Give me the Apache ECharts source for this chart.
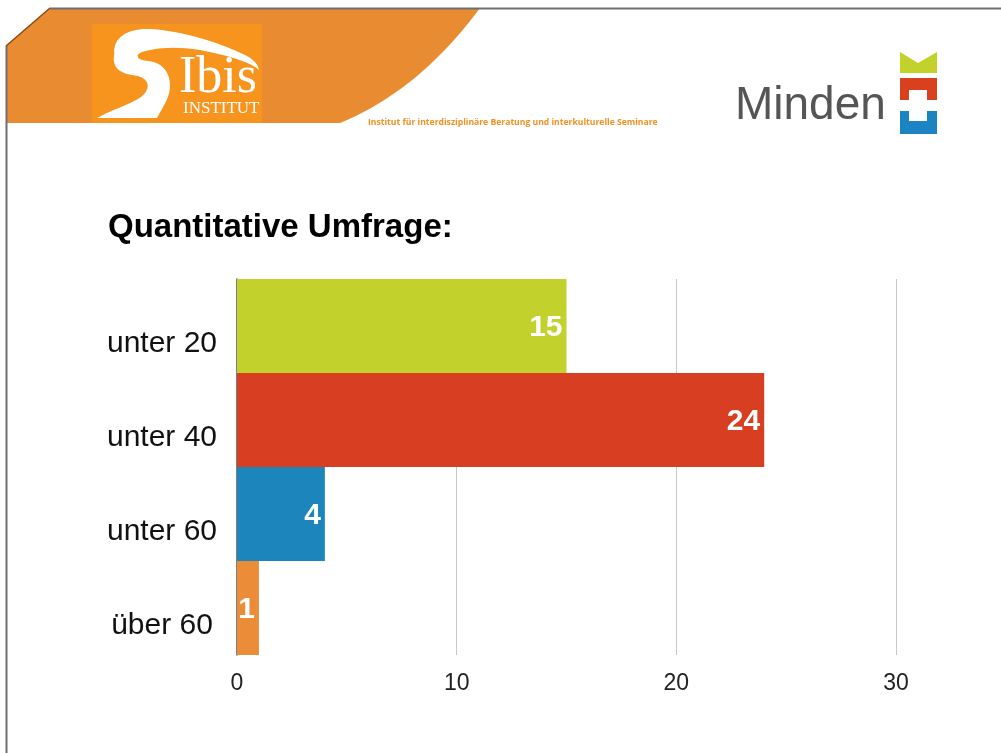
<!DOCTYPE html>
<html>
<head>
<meta charset="utf-8">
<script src="https://cdn.jsdelivr.net/npm/echarts@6/dist/echarts.min.js"></script>
<style>
html,body{margin:0;padding:0;background:#fff;}
#chart{width:1001px;height:753px;}
</style>
</head>
<body>
<div id="chart"></div>
<script>
const categories = ['unter 20', 'unter 40', 'unter 60', 'über 60'];
const values = [15, 24, 4, 1];
const xTicks = [0, 10, 20, 30];
const barColors = ['#C2D12B', '#D83F22', '#1B85BC', '#EB8D38'];

// helper: sample a cubic bezier into points (for decorative shapes only)
function cubic(p0, p1, p2, p3, n) {
  const pts = [];
  for (let i = 0; i <= n; i++) {
    const t = i / n, u = 1 - t;
    pts.push([
      u*u*u*p0[0] + 3*u*u*t*p1[0] + 3*u*t*t*p2[0] + t*t*t*p3[0],
      u*u*u*p0[1] + 3*u*u*t*p1[1] + 3*u*t*t*p2[1] + t*t*t*p3[1]
    ]);
  }
  return pts;
}
function chain(segs) {
  let out = [];
  segs.forEach(s => { out = out.concat(s); });
  return out;
}

const bandPts = chain([
  [[50, 8], [480, 8]],
  cubic([480, 8], [440, 62], [395, 100], [340, 123], 20),
  [[6, 123], [6, 46]]
]);

const headPts = chain([
  cubic([116, 62], [108, 40], [125, 28], [150, 29], 10),
  cubic([150, 29], [175, 30], [215, 40], [245, 55], 10),
  cubic([245, 55], [253, 59], [258, 64], [259, 70], 6),
  cubic([259, 70], [250, 62], [230, 56], [200, 50], 8),
  cubic([200, 50], [180, 47], [165, 47], [150, 50], 8),
  cubic([150, 50], [140, 52], [136, 54], [138, 58], 6)
]);
const neckPts = chain([
  cubic([114, 55], [112, 70], [122, 74], [138, 76], 10),
  cubic([138, 76], [152, 80], [150, 92], [138, 99], 10),
  cubic([138, 99], [125, 106], [112, 110], [97, 118], 10),
  [[157, 118]],
  cubic([157, 118], [162, 108], [170, 98], [170, 86], 10),
  cubic([170, 86], [170, 70], [160, 62], [148, 61], 10),
  cubic([148, 61], [140, 60], [137, 58], [138, 56], 6)
]);

const chart = echarts.init(document.getElementById('chart'), null, {renderer: 'canvas'});

const graphics = [
  {type: 'polygon', z: 1, silent: true, shape: {points: bandPts}, style: {fill: '#E98B30'}},
  {type: 'line', z: 2, silent: true, shape: {x1: 6, y1: 46, x2: 50, y2: 8},
   style: {stroke: '#8A4A14', lineWidth: 1.5}},
  {type: 'line', z: 3, silent: true, shape: {x1: 50, y1: 8.5, x2: 1001, y2: 8.5},
   style: {stroke: '#6E6E6E', lineWidth: 2}},
  {type: 'line', z: 3, silent: true, shape: {x1: 6.5, y1: 46, x2: 6.5, y2: 753},
   style: {stroke: '#6E6E6E', lineWidth: 2}},
  {type: 'rect', z: 4, silent: true, shape: {x: 92, y: 24, width: 170, height: 99},
   style: {fill: '#F7941D'}},
  {type: 'polygon', z: 5, silent: true, shape: {points: headPts}, style: {fill: '#fff'}},
  {type: 'polygon', z: 5, silent: true, shape: {points: neckPts}, style: {fill: '#fff'}},
  {type: 'text', z: 5, silent: true, left: 179, top: 52,
   style: {text: 'Ibis', font: '52px "Liberation Serif", serif', fill: '#fff'}},
  {type: 'text', z: 5, silent: true, left: 183, top: 100,
   style: {text: 'INSTITUT', font: '17px "Liberation Serif", serif', fill: '#fff'}},
  {type: 'text', z: 5, silent: true, left: 368, top: 118,
   style: {text: 'Institut für interdisziplinäre Beratung und interkulturelle Seminare',
           font: 'bold 8.6px "Open Sans", sans-serif', fill: '#F39122'}},
  {type: 'text', z: 5, silent: true, left: 735, top: 83,
   style: {text: 'Minden', font: '46px "Liberation Sans", Arial, sans-serif', fill: '#555'}},
  {type: 'polygon', z: 5, silent: true,
   shape: {points: [[900,52],[918,63],[937,52],[937,73],[900,73]]}, style: {fill: '#C3D22A'}},
  {type: 'polygon', z: 5, silent: true,
   shape: {points: [[900,78],[937,78],[937,100],[927,100],[927,90],[909,90],[909,100],[900,100]]},
   style: {fill: '#D9411E'}},
  {type: 'polygon', z: 5, silent: true,
   shape: {points: [[900,111],[909,111],[909,121],[927,121],[927,111],[937,111],[937,134],[900,134]]},
   style: {fill: '#1C84C2'}},
  {type: 'text', z: 5, silent: true, left: 108, top: 211,
   style: {text: 'Quantitative Umfrage:', font: 'bold 33px "Liberation Sans", Arial, sans-serif', fill: '#000'}}
];

chart.setOption({
  animation: false,
  backgroundColor: '#fff',
  grid: {left: 237, right: 105, top: 279, bottom: 98, containLabel: false},
  xAxis: {
    type: 'value', min: xTicks[0], max: xTicks[xTicks.length - 1], interval: 10,
    axisLine: {show: false}, axisTick: {show: false},
    splitLine: {show: true, lineStyle: {color: '#C8C8C8', width: 1}},
    axisLabel: {margin: 17, color: '#222', fontSize: 23,
      fontFamily: '"Liberation Sans Narrow", "Liberation Sans", Arial, sans-serif'}
  },
  yAxis: {
    type: 'category', data: categories, inverse: true,
    axisLine: {show: true, lineStyle: {color: '#555', width: 1.5}},
    axisTick: {show: false},
    splitLine: {show: false},
    axisLabel: {margin: 75, align: 'center', verticalAlign: 'top', lineHeight: 35,
      color: '#111', fontSize: 30,
      fontFamily: '"Liberation Sans", Arial, sans-serif'}
  },
  series: [{
    type: 'bar',
    barCategoryGap: 0,
    data: values.map((v, i) => ({value: v, itemStyle: {color: barColors[i]}})),
    label: {show: true, position: 'insideRight', distance: 4, offset: [0, 2], color: '#fff',
      fontSize: 30, fontWeight: 'bold', fontFamily: '"Liberation Sans", Arial, sans-serif'},
    z: 2
  }],
  graphic: graphics
});
</script>
</body>
</html>
